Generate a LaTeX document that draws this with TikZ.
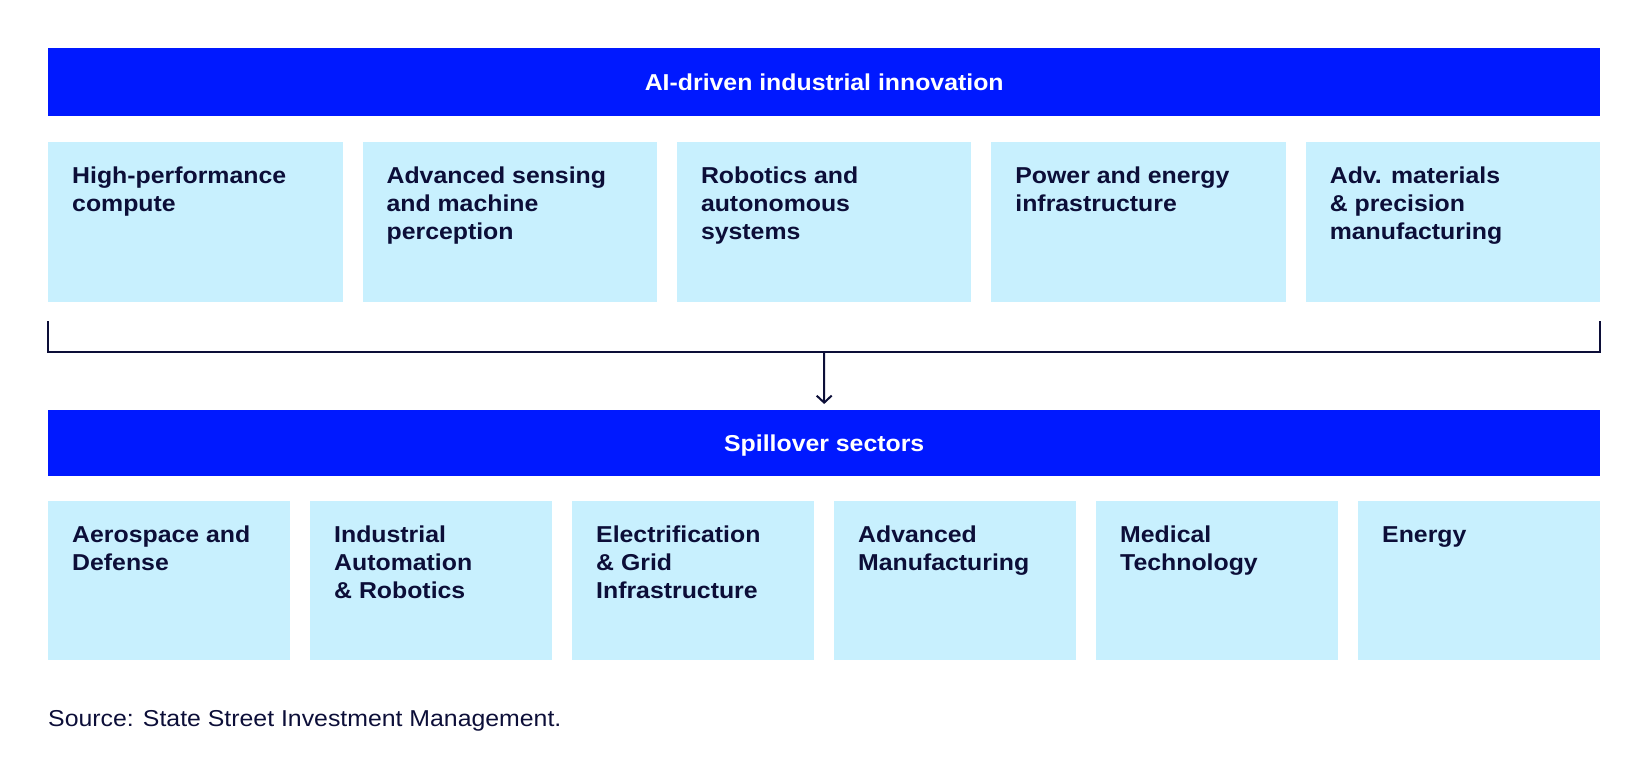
\documentclass[tikz,border=0pt]{standalone}
\usepackage{fontspec}
\setmainfont{Liberation Sans}[FakeStretch=1.08]
\usetikzlibrary{arrows.meta}
\definecolor{brandblue}{HTML}{0019FF}
\definecolor{lightbox}{HTML}{C8F0FE}
\definecolor{navy}{HTML}{0C0E38}
\tikzset{
  bar/.style={fill=brandblue, draw=none, minimum width=1552pt, minimum height=68pt,
    inner sep=0pt, anchor=north west, text=white, text height=16.5pt, text depth=0pt,
    font=\fontsize{23}{27.7}\selectfont\bfseries},
  topbox/.style={fill=lightbox, draw=none, minimum width=294.4pt, minimum height=160pt,
    inner sep=0pt, anchor=north west},
  botbox/.style={fill=lightbox, draw=none, minimum width=242pt, minimum height=159pt,
    inner sep=0pt, anchor=north west},
  boxtext/.style={anchor=north west, inner sep=0pt, align=left, text=navy,
    font=\fontsize{23}{27.7}\selectfont\bfseries},
  conn/.style={draw=navy, line width=2pt},
  srctext/.style={anchor=base west, inner sep=0pt, text=navy, font=\fontsize{23}{27.7}\selectfont}
}
\begin{document}
\begin{tikzpicture}[x=1pt,y=-1pt]
\path[use as bounding box] (0,0) rectangle (1648,776);
% top bar
\node[bar] (bar1) at (48,48) {AI-driven industrial innovation};
% top boxes
\node[topbox] (t1) at (48,142) {};
\node[topbox] (t2) at (362.4,142) {};
\node[topbox] (t3) at (676.8,142) {};
\node[topbox] (t4) at (991.2,142) {};
\node[topbox] (t5) at (1305.6,142) {};
\node[boxtext] (t1t) at ([shift={(24pt,-25pt)}]t1.north west) {High-performance\\compute};
\node[boxtext] (t2t) at ([shift={(24pt,-25pt)}]t2.north west) {Advanced sensing\\and machine\\perception};
\node[boxtext] (t3t) at ([shift={(24pt,-25pt)}]t3.north west) {Robotics and\\autonomous\\systems};
\node[boxtext] (t4t) at ([shift={(24pt,-25pt)}]t4.north west) {Power and energy\\infrastructure};
\node[boxtext] (t5t) at ([shift={(24pt,-25pt)}]t5.north west) {Adv. materials\\\& precision\\manufacturing};
% bracket
\coordinate (bl) at (48,321);
\coordinate (br) at (1600,321);
\coordinate (bml) at (48,352);
\coordinate (bmr) at (1600,352);
\coordinate (bm) at (824,352);
\draw[conn] (bl) -- (bml) -- (bmr) -- (br);
% bottom bar
\node[bar, minimum height=66pt] (bar2) at (48,410) {Spillover sectors};
\draw[conn, -{Straight Barb[length=7pt,width=15pt]}, shorten >=6pt] (bm) -- (bar2.north);
% bottom boxes
\node[botbox] (b1) at (48,501) {};
\node[botbox] (b2) at (310,501) {};
\node[botbox] (b3) at (572,501) {};
\node[botbox] (b4) at (834,501) {};
\node[botbox] (b5) at (1096,501) {};
\node[botbox] (b6) at (1358,501) {};
\node[boxtext] (b1t) at ([shift={(24pt,-25pt)}]b1.north west) {Aerospace and\\Defense};
\node[boxtext] (b2t) at ([shift={(24pt,-25pt)}]b2.north west) {Industrial\\Automation\\\& Robotics};
\node[boxtext] (b3t) at ([shift={(24pt,-25pt)}]b3.north west) {Electrification\\\& Grid\\Infrastructure};
\node[boxtext] (b4t) at ([shift={(24pt,-25pt)}]b4.north west) {Advanced\\Manufacturing};
\node[boxtext] (b5t) at ([shift={(24pt,-25pt)}]b5.north west) {Medical\\Technology};
\node[boxtext] (b6t) at ([shift={(24pt,-25pt)}]b6.north west) {Energy};
% source
\node[srctext] (src) at (48,726) {Source: State Street Investment Management.};
\end{tikzpicture}
\end{document}
